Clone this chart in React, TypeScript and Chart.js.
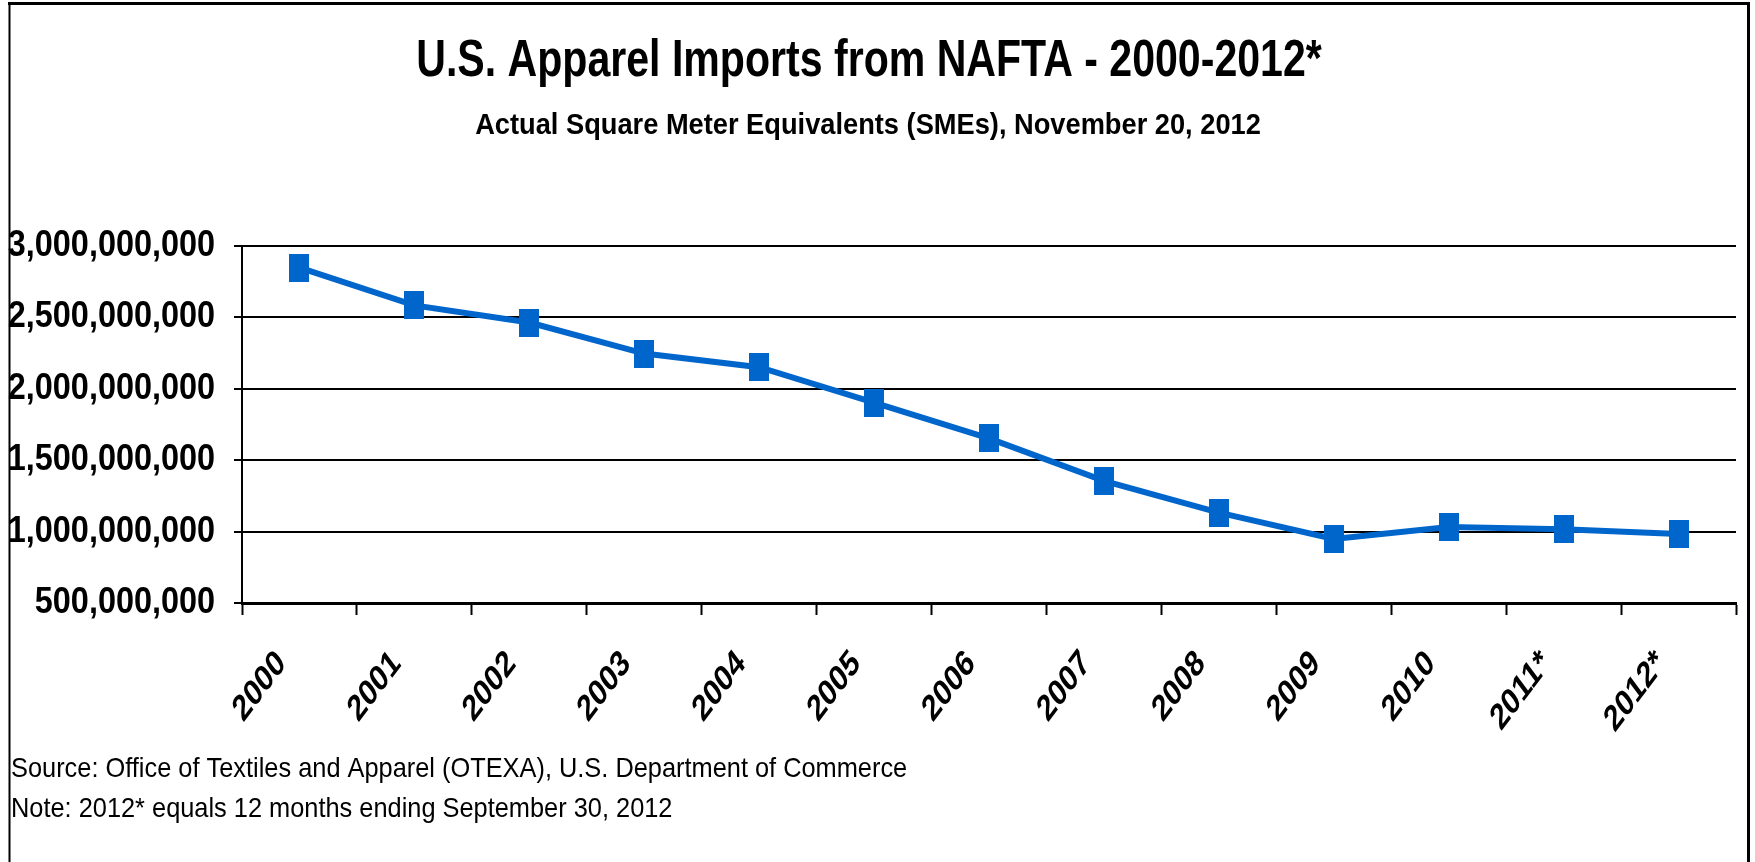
import React, { useEffect, useRef } from "react";
import { Chart, registerables } from "chart.js";

Chart.register(...registerables);

const categories = ["2000", "2001", "2002", "2003", "2004", "2005", "2006", "2007", "2008", "2009", "2010", "2011*", "2012*"];
const imports = [2848000000, 2584000000, 2464000000, 2247000000, 2151000000, 1904000000, 1653000000, 1355000000, 1133000000, 948000000, 1032000000, 1016000000, 983000000];
const yTicks = [500000000, 1000000000, 1500000000, 2000000000, 2500000000, 3000000000];
const titleText = "U.S. Apparel Imports from NAFTA - 2000-2012*";
const subtitleText = "Actual Square Meter Equivalents (SMEs), November 20, 2012";
const footnotes = [
  "Source: Office of Textiles and Apparel (OTEXA), U.S. Department of Commerce",
  "Note: 2012* equals 12 months ending September 30, 2012",
];

const FONT = "'Liberation Sans Narrow', 'Arial Narrow', 'Liberation Sans', Arial, sans-serif";
const BLUE = "#0066CC";
const X_SQUEEZE = 0.75;
const Y_SQUEEZE = 0.9;

function squeezedText(ctx: CanvasRenderingContext2D, text: string, x: number, y: number, s: number) {
  ctx.save();
  ctx.translate(x, y);
  ctx.scale(s, 1);
  ctx.fillText(text, 0, 0);
  ctx.restore();
}

export default function App() {
  const ref = useRef<HTMLCanvasElement | null>(null);

  useEffect(() => {
    const canvas = ref.current;
    if (!canvas) return;

    const marker = document.createElement("canvas");
    marker.width = 20;
    marker.height = 28;
    const mctx = marker.getContext("2d");
    if (mctx) {
      mctx.fillStyle = BLUE;
      mctx.fillRect(0, 0, 20, 28);
    }

    const narrowLabels = {
      id: "narrowLabels",
      afterLayout(chart: any) {
        (["x", "y"] as const).forEach((id) => {
          const sc: any = chart.scales[id];
          if (!sc || sc.__narrow) return;
          sc.__narrow = true;
          const s = id === "x" ? X_SQUEEZE : Y_SQUEEZE;
          const orig = sc.drawLabels.bind(sc);
          sc.drawLabels = (area: any) => {
            const ctx: any = sc.ctx;
            const f = ctx.fillText;
            ctx.fillText = function (t: string, x: number, y: number, mw?: number) {
              const m = ctx.getTransform();
              ctx.setTransform(m.a * s, m.b, m.c * s, m.d, m.e, m.f);
              if (mw === undefined) f.call(ctx, t, x, y);
              else f.call(ctx, t, x, y, mw / s);
              ctx.setTransform(m);
            };
            try {
              orig(area);
            } finally {
              delete ctx.fillText;
            }
          };
        });
      },
    };

    const decor = {
      id: "decor",
      beforeDraw(chart: any) {
        const ctx = chart.ctx;
        ctx.save();
        ctx.fillStyle = "#ffffff";
        ctx.fillRect(0, 0, chart.width, chart.height);
        ctx.strokeStyle = "#000000";
        ctx.lineWidth = 3;
        ctx.beginPath();
        ctx.moveTo(8, 3.5);
        ctx.lineTo(1750, 3.5);
        ctx.stroke();
        ctx.lineWidth = 2;
        ctx.beginPath();
        ctx.moveTo(9.5, 2);
        ctx.lineTo(9.5, chart.height);
        ctx.stroke();
        ctx.lineWidth = 3;
        ctx.beginPath();
        ctx.moveTo(1748.5, 2);
        ctx.lineTo(1748.5, chart.height);
        ctx.stroke();
        ctx.restore();
      },
      afterDraw(chart: any) {
        const ctx = chart.ctx;
        ctx.save();
        ctx.fillStyle = "#000000";
        ctx.textBaseline = "alphabetic";
        ctx.textAlign = "center";
        ctx.font = `bold 52px ${FONT}`;
        squeezedText(ctx, titleText, 869, 76, 0.79);
        ctx.font = `bold 30px ${FONT}`;
        squeezedText(ctx, subtitleText, 868, 134, 0.908);
        ctx.textAlign = "left";
        ctx.font = `28px ${FONT}`;
        footnotes.forEach((t, i) => squeezedText(ctx, t, 11, 777 + i * 40, 0.906));
        ctx.restore();
      },
    };

    const chart = new Chart(canvas, {
      type: "line",
      data: {
        labels: categories,
        datasets: [
          {
            label: "Imports (SMEs)",
            data: imports,
            borderColor: BLUE,
            backgroundColor: BLUE,
            borderWidth: 6,
            tension: 0,
            pointStyle: marker as any,
            pointRadius: 10,
            pointHoverRadius: 10,
          },
        ],
      },
      options: {
        responsive: false,
        animation: false,
        devicePixelRatio: 1,
        layout: { padding: { left: 0, right: 19, top: 246, bottom: 109 } },
        plugins: {
          legend: { display: false },
          tooltip: { enabled: false },
          title: { display: false },
        },
        scales: {
          x: {
            type: "category",
            offset: true,
            grid: {
              offset: true,
              drawOnChartArea: false,
              drawTicks: true,
              tickLength: 12,
              tickWidth: 2,
              tickColor: "#000000",
            },
            border: { display: true, color: "#000000", width: 3 },
            ticks: {
              color: "#000000",
              font: { family: FONT, size: 37, weight: "bold" },
              minRotation: 45,
              maxRotation: 45,
              padding: 27,
              labelOffset: -14,
              autoSkip: false,
            },
            afterFit(scale: any) {
              scale.height = 150;
            },
          },
          y: {
            min: 500000000,
            max: 3000000000,
            afterBuildTicks(scale: any) {
              scale.ticks = yTicks.map((v) => ({ value: v }));
            },
            grid: {
              color: "#000000",
              lineWidth: 2,
              drawTicks: true,
              tickLength: 8,
            },
            border: { display: true, color: "#000000", width: 2 },
            ticks: {
              color: "#000000",
              font: { family: FONT, size: 36, weight: "bold" },
              padding: 19,
              callback: (v: any) => Number(v).toLocaleString("en-US"),
            },
            afterFit(scale: any) {
              scale.width = 242;
            },
          },
        },
      },
      plugins: [narrowLabels, decor],
    });

    return () => chart.destroy();
  }, []);

  return (
    <div style={{ position: "absolute", left: 0, top: 0, width: 1755, height: 862 }}>
      <canvas ref={ref} width={1755} height={862} style={{ display: "block" }} />
    </div>
  );
}
